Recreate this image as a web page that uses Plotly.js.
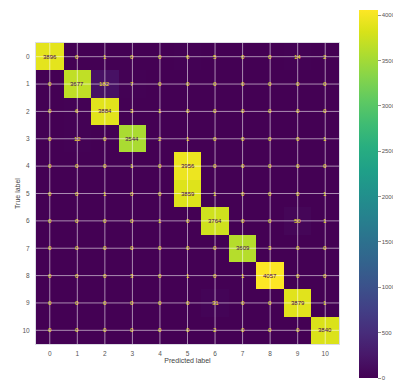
<!DOCTYPE html>
<html>
<head>
<meta charset="utf-8">
<script src="https://cdn.plot.ly/plotly-3.0.1.min.js"></script>
<style>html,body{margin:0;padding:0;background:#fff;}#chart{width:393px;height:386px;}</style>
</head>
<body>
<div id="chart"></div>
<script>
const labels = [0,1,2,3,4,5,6,7,8,9,10];
const row0  = [3896,0,1,0,0,6,5,0,0,14,2];
const row1  = [0,3677,182,7,0,0,0,0,0,0,0];
const row2  = [0,6,3884,3,1,0,0,0,0,0,0];
const row3  = [0,12,0,3544,2,1,0,0,0,0,1];
const row4  = [0,0,0,1,0,3956,0,0,0,0,0];
const row5  = [0,0,1,0,0,3859,1,0,0,0,1];
const row6  = [0,0,0,0,1,0,3764,0,0,50,1];
const row7  = [0,0,0,0,0,0,0,3609,3,0,0];
const row8  = [0,0,0,3,0,1,0,1,4057,0,0];
const row9  = [0,0,0,0,0,0,31,0,0,3879,1];
const row10 = [0,0,0,0,0,0,2,0,0,0,3840];
const matrix = [row0,row1,row2,row3,row4,row5,row6,row7,row8,row9,row10];
const colorbarTicks = [0,500,1000,1500,2000,2500,3000,3500,4000];

let zmax = 0;
matrix.forEach(r => r.forEach(v => { if (v > zmax) zmax = v; }));

const annotations = [];
matrix.forEach((r, i) => r.forEach((v, j) => {
  annotations.push({
    x: labels[j], y: labels[i], xref: 'x', yref: 'y',
    text: String(v), showarrow: false,
    font: {family: 'Liberation Sans, Arial, sans-serif', size: 6, color: v > zmax / 2 ? '#440154' : '#fde725'}
  });
}));

const gridColor = 'rgba(255,255,255,0.55)';
const shapes = [];
labels.forEach(l => {
  shapes.push({type: 'line', xref: 'x', yref: 'paper', x0: l, x1: l, y0: 0, y1: 1, layer: 'above', line: {color: gridColor, width: 1}});
  shapes.push({type: 'line', xref: 'paper', yref: 'y', x0: 0, x1: 1, y0: l, y1: l, layer: 'above', line: {color: gridColor, width: 1}});
});

const trace = {
  type: 'heatmap',
  z: matrix, x: labels, y: labels,
  colorscale: 'Viridis', zmin: 0, zmax: zmax,
  xgap: 0, ygap: 0,
  hoverinfo: 'skip',
  colorbar: {
    x: 1.066, xanchor: 'left', xref: 'paper',
    y: 1.1096, yanchor: 'top',
    lenmode: 'pixels', len: 368,
    thickness: 19, thicknessmode: 'pixels',
    outlinewidth: 0, xpad: 0, ypad: 0,
    tickvals: colorbarTicks,
    ticks: 'outside', ticklen: 3, tickcolor: '#777', tickwidth: 0.8,
    tickfont: {family: 'Liberation Sans, Arial, sans-serif', size: 6, color: '#555'}
  }
};

const axisFont = {family: 'Liberation Sans, Arial, sans-serif', size: 6.5, color: '#555'};
const layout = {
  width: 393, height: 386,
  margin: {l: 36, r: 54, t: 43, b: 42, pad: 0, autoexpand: false},
  paper_bgcolor: '#fff', plot_bgcolor: '#fff',
  xaxis: {
    tickvals: labels, ticktext: labels.map(String), automargin: false,
    range: [-0.5, 10.5], showgrid: false, zeroline: false,
    showline: true, linecolor: '#dcdce4', linewidth: 1, mirror: true,
    ticks: '', ticklabelstandoff: 3, tickfont: axisFont,
    title: {text: 'Predicted label', standoff: 0, font: {family: 'Liberation Sans, Arial, sans-serif', size: 7, color: '#444'}}
  },
  yaxis: {
    tickvals: labels, ticktext: labels.map(String), automargin: false,
    range: [10.5, -0.5], showgrid: false, zeroline: false,
    showline: true, linecolor: '#dcdce4', linewidth: 1, mirror: true,
    ticks: '', ticklabelstandoff: 4, tickfont: axisFont,
    title: {text: 'True label', standoff: 1, font: {family: 'Liberation Sans, Arial, sans-serif', size: 7, color: '#444'}}
  },
  annotations: annotations,
  shapes: shapes,
  showlegend: false
};

Plotly.newPlot('chart', [trace], layout, {displayModeBar: false, staticPlot: true});
</script>
</body>
</html>
